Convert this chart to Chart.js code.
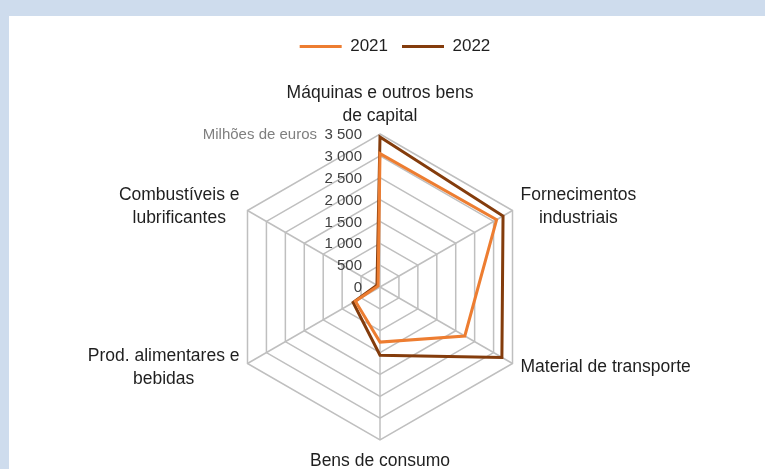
<!DOCTYPE html>
<html>
<head>
<meta charset="utf-8">
<script src="https://cdn.jsdelivr.net/npm/chart.js@4.4.1/dist/chart.umd.min.js"></script>
<style>
  html, body { margin: 0; padding: 0; background: #cedced; }
  #panel { position: absolute; left: 9px; top: 16px; right: 0; bottom: 0; background: #ffffff; }
  #wrap { position: absolute; left: 0; top: 0; width: 765px; height: 469px; }
</style>
</head>
<body>
<div id="panel"></div>
<div id="wrap"><canvas id="radar"></canvas></div>
<script>
// categories (point labels, split in lines)
const categories = [
  ["Máquinas e outros bens", "de capital"],
  ["Fornecimentos", "industriais"],
  ["Material de transporte"],
  ["Bens de consumo"],
  ["Prod. alimentares e", "bebidas"],
  ["Combustíveis e", "lubrificantes"]
];
const seriesNames = ["2021", "2022"];
const values2021 = [3050, 3080, 2240, 1260, 650, 50];
const values2022 = [3430, 3250, 3220, 1560, 710, 80];
// radial axis ticks
const tickValues = [0, 500, 1000, 1500, 2000, 2500, 3000, 3500];
const tickLabels = ["0", "500", "1 000", "1 500", "2 000", "2 500", "3 000", "3 500"];
const axisTitle = "Milhões de euros";

const FONT = "'Liberation Sans', Arial, sans-serif";

// draws tick labels left of the vertical axis and the axis title
const tickPlugin = {
  id: "tickLabels",
  afterDatasetsDraw(chart) {
    const scale = chart.scales.r;
    const ctx = chart.ctx;
    ctx.save();
    ctx.font = "15px " + FONT;
    ctx.textAlign = "right";
    ctx.textBaseline = "middle";
    ctx.fillStyle = "#404040";
    tickValues.forEach((v, i) => {
      const y = scale.yCenter - scale.getDistanceFromCenterForValue(v);
      ctx.fillText(tickLabels[i], scale.xCenter - 18, y + 1);
    });
    const yTop = scale.yCenter - scale.getDistanceFromCenterForValue(tickValues[tickValues.length - 1]);
    ctx.fillStyle = "#7f7f7f";
    ctx.fillText(axisTitle, scale.xCenter - 63, yTop + 1);
    ctx.restore();
  }
};

// point labels, each line centred in its block
const labelPlugin = {
  id: "catLabels",
  afterDraw(chart) {
    const scale = chart.scales.r;
    const ctx = chart.ctx;
    const lh = 23;
    ctx.save();
    ctx.font = "17.5px " + FONT;
    ctx.fillStyle = "#1f1f1f";
    ctx.textAlign = "center";
    ctx.textBaseline = "middle";
    categories.forEach((lines, i) => {
      const p = scale.getPointPosition(i, scale.drawingArea);
      const w = Math.max(...lines.map(l => ctx.measureText(l).width));
      const h = lines.length * lh;
      let cx, cy;
      if (Math.abs(p.x - scale.xCenter) < 2) {
        cx = p.x;
        cy = p.y < scale.yCenter ? p.y - 6 - h / 2 : p.y + 10 + h / 2;
      } else {
        cx = p.x > scale.xCenter ? p.x + 8 + w / 2 : p.x - 8 - w / 2;
        cy = p.y < scale.yCenter ? p.y - 4 : p.y + 4;
      }
      lines.forEach((l, k) => {
        ctx.fillText(l, cx, cy - h / 2 + lh / 2 + k * lh);
      });
    });
    ctx.restore();
  }
};

// legend placement: fixed height, nudged right
const legendPlugin = {
  id: "legendPlace",
  beforeInit(chart) {
    const fit = chart.legend.fit;
    chart.legend.fit = function () {
      fit.bind(chart.legend)();
      this.height = 110;
    };
  },
  afterLayout(chart) {
    chart.legend.left += 15;
    chart.legend.right += 15;
  }
};

const ctx = document.getElementById("radar");
new Chart(ctx, {
  type: "radar",
  plugins: [legendPlugin, tickPlugin, labelPlugin],
  data: {
    labels: categories,
    datasets: [
      {
        label: seriesNames[0],
        data: values2021,
        borderColor: "#ed7d31",
        backgroundColor: "#ed7d31",
        borderWidth: 3,
        borderJoinStyle: "miter",
        borderCapStyle: "round",
        pointRadius: 0,
        fill: false
      },
      {
        label: seriesNames[1],
        data: values2022,
        borderColor: "#843c0c",
        backgroundColor: "#843c0c",
        borderWidth: 3,
        borderJoinStyle: "miter",
        borderCapStyle: "round",
        pointRadius: 0,
        fill: false
      }
    ]
  },
  options: {
    responsive: true,
    maintainAspectRatio: false,
    animation: false,
    layout: { padding: { top: 24, bottom: 29, left: 0, right: 5 } },
    plugins: {
      tooltip: { enabled: false },
      legend: {
        position: "top",
        labels: {
          usePointStyle: true,
          pointStyle: "line",
          pointStyleWidth: 42,
          boxHeight: 17,
          padding: 14,
          color: "#1f1f1f",
          font: { family: FONT, size: 17 }
        }
      }
    },
    scales: {
      r: {
        min: 0,
        max: 3500,
        ticks: { stepSize: 500, display: false },
        grid: { circular: false, color: "#bfbfbf", lineWidth: 1.5 },
        angleLines: { display: true, color: "#bfbfbf", lineWidth: 1.5 },
        pointLabels: { display: false }
      }
    }
  }
});
</script>
</body>
</html>
